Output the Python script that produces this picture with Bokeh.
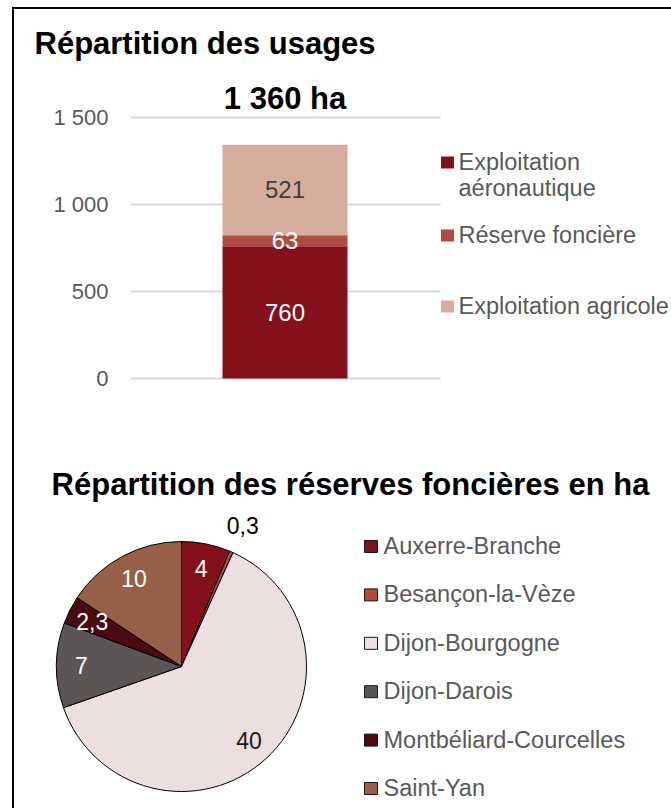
import math
from bokeh.plotting import figure
from bokeh.layouts import column
from bokeh.models import Range1d, FixedTicker
from bokeh.embed import file_html
from bokeh.resources import INLINE
from bokeh.core.properties import value

# ---------------- data ----------------
usage_title = "Répartition des usages"
usage_total_label = "1 360 ha"
usage_names = ["Exploitation aéronautique", "Réserve foncière", "Exploitation agricole"]
usage_values = [760, 63, 521]
usage_colors = ["#83101b", "#ae4a40", "#d4ad9f"]
usage_label_colors = ["#ffffff", "#ffffff", "#404040"]
usage_legend_lines = [["Exploitation", "aéronautique"], ["Réserve foncière"], ["Exploitation agricole"]]
y_ticks = [0, 500, 1000, 1500]
y_tick_labels = ["0", "500", "1 000", "1 500"]

reserve_title = "Répartition des réserves foncières en ha"
reserve_sites = ["Auxerre-Branche", "Besançon-la-Vèze", "Dijon-Bourgogne",
                 "Dijon-Darois", "Montbéliard-Courcelles", "Saint-Yan"]
reserve_values = [4, 0.3, 40, 7, 2.3, 10]
reserve_colors = ["#84101c", "#b5473c", "#eddfe0", "#5b5555", "#4b0a10", "#985f48"]
reserve_label_colors = ["#ffffff", "#000000", "#1a1a1a", "#ffffff", "#ffffff", "#ffffff"]

# ---------------- style / layout ----------------
FONT = "Liberation Sans"
GREY = "#595959"
W = 657          # canvas width
X0 = 14          # page x of canvas left edge
Y0 = 9           # page y of first figure top


def fmt(v):
    return f"{v:g}".replace(".", ",")


def bare(p):
    p.grid.visible = False
    p.background_fill_color = "white"
    p.border_fill_color = "white"
    p.outline_line_color = None
    p.frame_align = False


# ---- title strip ----
H0 = 63
p0 = figure(width=W, height=H0, x_range=Range1d(X0, X0 + W), y_range=Range1d(-(Y0 + H0), -Y0),
            x_axis_location=None, y_axis_location=None, min_border=0,
            output_backend="svg", toolbar_location=None)
bare(p0)
p0.text(x=[34], y=[-42.5], text=[usage_title], text_font=value(FONT), text_font_style="bold",
        text_font_size="31px", text_color="#000000", text_baseline="alphabetic", text_align="left")

# ---- stacked bar ----
Y1 = Y0 + H0
H1 = 358
FL = 130                       # page x of frame left
k = 261 / 1500                 # px per hectare
y_zero = 378                   # page y of value 0
bar_c = 284.5                  # page x of bar centre
bar_px = 125                   # bar width in px
p1 = figure(width=W, height=H1,
            x_range=Range1d((FL - bar_c) / bar_px, (X0 + W - bar_c) / bar_px),
            y_range=Range1d(-(Y1 + H1 - y_zero) / k, (y_zero - Y1) / k),
            x_axis_location=None, y_axis_location="left",
            min_border_left=FL - X0, min_border_right=0, min_border_top=0, min_border_bottom=0,
            output_backend="svg", toolbar_location=None)
bare(p1)
p1.extra_x_ranges = {"px": Range1d(FL, X0 + W)}
p1.extra_y_ranges = {"px": Range1d(-(Y1 + H1), -Y1)}

ax = p1.yaxis[0]
ax.ticker = FixedTicker(ticks=y_ticks)
ax.major_label_overrides = {t: l for t, l in zip(y_ticks, y_tick_labels)}
ax.axis_line_color = None
ax.major_tick_line_color = None
ax.minor_tick_line_color = None
ax.major_tick_out = 0
ax.major_tick_in = 0
ax.major_label_standoff = 22
ax.major_label_text_font = FONT
ax.major_label_text_font_size = "22px"
ax.major_label_text_color = GREY

p1.segment(x0=[FL] * len(y_ticks), x1=[440] * len(y_ticks), y0=y_ticks, y1=y_ticks,
           x_range_name="px", line_color="#d9d9d9", line_width=2)

bottoms, tops = [], []
acc = 0
for v in usage_values:
    bottoms.append(acc)
    acc += v
    tops.append(acc)
p1.vbar(x=[0] * len(usage_values), bottom=bottoms, top=tops, width=1,
        fill_color=usage_colors, line_color=None)
p1.text(x=[0] * len(usage_values), y=[(b + t) / 2 for b, t in zip(bottoms, tops)],
        text=[fmt(v) for v in usage_values], text_color=usage_label_colors,
        text_font=value(FONT), text_font_size="24px", text_align="center",
        text_baseline="alphabetic")
p1.text(x=[0], y=[-98], y_range_name="px", text=[usage_total_label], text_font=value(FONT),
        text_font_style="bold", text_font_size="31px", text_color="#000000",
        text_align="center", text_baseline="alphabetic")

leg1_mid = [161, 234, 305]
p1.rect(x=[447] * 3, y=[-(m + 1) for m in leg1_mid], width=13, height=12,
        x_range_name="px", y_range_name="px", fill_color=usage_colors, line_color=None)
lx, ly, lt = [], [], []
for m, lines in zip(leg1_mid, usage_legend_lines):
    for j, line in enumerate(lines):
        lx.append(458)
        ly.append(-(m + 26 * j))
        lt.append(line)
p1.text(x=lx, y=ly, text=lt, x_range_name="px", y_range_name="px", text_font=value(FONT),
        text_font_size="23.5px", text_color=GREY, text_baseline="alphabetic", text_align="left")

# ---- pie ----
Y2 = Y1 + H1
H2 = 378
p2 = figure(width=W, height=H2, x_range=Range1d(X0, X0 + W), y_range=Range1d(-(Y2 + H2), -Y2),
            x_axis_location=None, y_axis_location=None, min_border=0,
            output_backend="svg", toolbar_location=None)
bare(p2)
p2.text(x=[350], y=[-484], text=[reserve_title], text_font=value(FONT), text_font_style="bold",
        text_font_size="31px", text_color="#000000", text_baseline="alphabetic", text_align="center")

cx, cy, R = 181, -666, 125
total = sum(reserve_values)
starts, ends, mids = [], [], []
acc = 0
for v in reserve_values:
    a0 = acc / total * 2 * math.pi
    acc += v
    a1 = acc / total * 2 * math.pi
    starts.append(math.pi / 2 - a1)
    ends.append(math.pi / 2 - a0)
    mids.append((a0 + a1) / 2)
p2.wedge(x=[cx] * len(reserve_values), y=[cy] * len(reserve_values), radius=R,
         start_angle=starts, end_angle=ends, fill_color=reserve_colors,
         line_color="#000000", line_width=1)
lab_x, lab_y = [], []
for v, m in zip(reserve_values, mids):
    r = R * (1.23 if v / total < 0.01 else 0.8)
    lab_x.append(cx + r * math.sin(m))
    lab_y.append(cy + r * math.cos(m))
p2.text(x=lab_x, y=lab_y, text=[fmt(v) for v in reserve_values], text_color=reserve_label_colors,
        text_font=value(FONT), text_font_size="23px", text_align="center",
        text_baseline="alphabetic")

leg2_c = [546 + 48.4 * i for i in range(len(reserve_sites))]
p2.rect(x=[370.5] * len(reserve_sites), y=[-c for c in leg2_c], width=13, height=12,
        fill_color=reserve_colors, line_color="#1a1a1a", line_width=1)
p2.text(x=[383] * len(reserve_sites), y=[-(c - 0.5) for c in leg2_c], text=reserve_sites,
        text_font=value(FONT), text_font_size="23.5px", text_color=GREY,
        text_baseline="alphabetic", text_align="left")

layout = column(p0, p1, p2, margin=(7, 0, 0, 12),
                styles={"border-left": "2px solid #000000", "border-top": "2px solid #000000"})

open("out.html", "w").write(file_html(layout, INLINE))
